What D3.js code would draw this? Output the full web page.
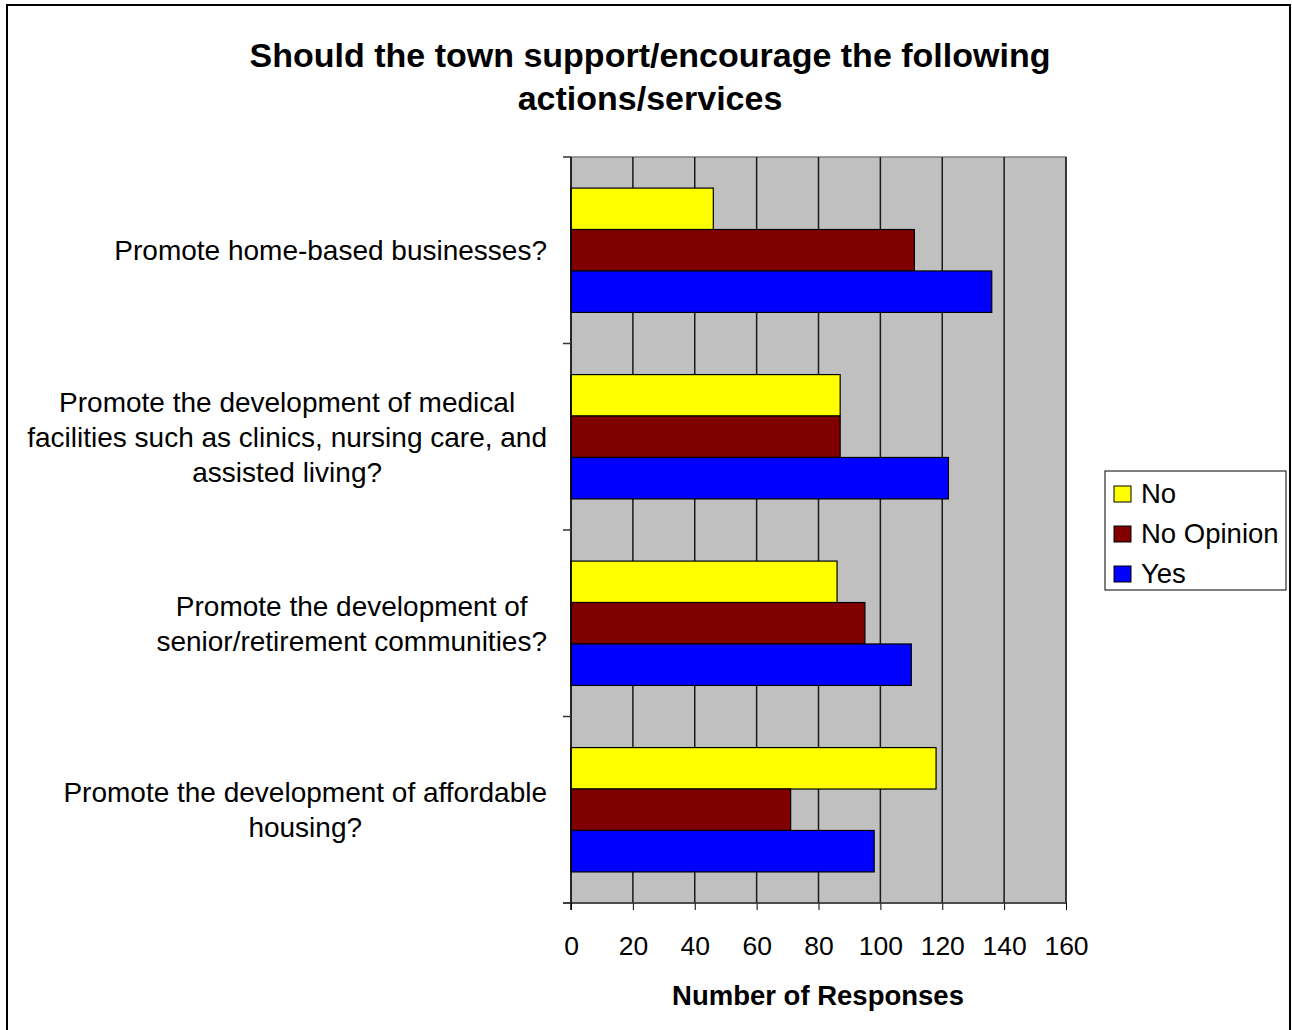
<!DOCTYPE html>
<html><head><meta charset="utf-8">
<script src="https://cdn.jsdelivr.net/npm/d3@7"></script>
<style>body{margin:0;background:#fff}svg{display:block}text{font-family:Arial,"Liberation Sans",sans-serif}</style>
</head><body>
<script>
const categories = [
  ["Promote home-based businesses?"],
  ["Promote the development of medical","facilities such as clinics, nursing care, and","assisted living?"],
  ["Promote the development of","senior/retirement communities?"],
  ["Promote the development of affordable","housing?"]
];
const seriesNames = ["No","No Opinion","Yes"];
const seriesColors = ["#FFFF00","#800000","#0000FF"];
const noValues = [46, 87, 86, 118];
const noOpinionValues = [111, 87, 95, 71];
const yesValues = [136, 122, 110, 98];
const xTicks = [0,20,40,60,80,100,120,140,160];
const titleLines = ["Should the town support/encourage the following","actions/services"];
const xTitle = "Number of Responses";

const W=1292,H=1030;
const svg=d3.select("body").append("svg").attr("width",W).attr("height",H);
svg.append("rect").attr("x",7).attr("y",5).attr("width",1283).attr("height",1040).attr("fill","#fff").attr("stroke","#000").attr("stroke-width",2);

const L=571,R=1066,T=157,B=903;
const x=d3.scaleLinear().domain([0,160]).range([L,R]);
const idx=d3.range(categories.length);
const y=d3.scaleBand().domain(idx).range([T,B]).padding(0);
const sub=d3.scaleBand().domain(d3.range(3)).range([0,y.bandwidth()]).paddingInner(0).paddingOuter(0.75);
const values=[noValues,noOpinionValues,yesValues];

svg.append("rect").attr("x",L).attr("y",T).attr("width",R-L).attr("height",B-T).attr("fill","#C0C0C0").attr("stroke","#808080").attr("stroke-width",1.5);
svg.append("g").selectAll("line").data(xTicks.slice(1)).join("line")
  .attr("x1",d=>x(d)).attr("x2",d=>x(d)).attr("y1",T).attr("y2",B)
  .attr("stroke","#1a1a1a").attr("stroke-width",1.5);

values.forEach((vals,s)=>{
  svg.append("g").selectAll("rect").data(idx).join("rect")
    .attr("x",x(0)).attr("y",i=>y(i)+sub(s)).attr("width",i=>x(vals[i])-x(0)).attr("height",sub.bandwidth())
    .attr("fill",seriesColors[s]).attr("stroke","#000").attr("stroke-width",1.2);
});

// axes
const xa=svg.append("g").attr("transform",`translate(0,${B})`).call(d3.axisBottom(x).tickValues(xTicks).tickSize(7).tickSizeOuter(0).tickPadding(26));
xa.select(".domain").remove();
xa.selectAll("line").attr("stroke","#000");
xa.selectAll("text").attr("font-size",26.5).attr("fill","#000").attr("font-family","Arial, 'Liberation Sans', sans-serif");
svg.append("line").attr("x1",L-8).attr("x2",R).attr("y1",B).attr("y2",B).attr("stroke","#333").attr("stroke-width",1.5);
svg.append("line").attr("x1",L).attr("x2",L).attr("y1",T).attr("y2",B+7).attr("stroke","#000").attr("stroke-width",1.5);
svg.append("g").selectAll("line").data(d3.range(categories.length+1)).join("line")
  .attr("x1",L-8).attr("x2",L).attr("y1",i=>T+i*y.step()).attr("y2",i=>T+i*y.step()).attr("stroke","#333").attr("stroke-width",1.5);

// category labels
const lh=35;
categories.forEach((lines,i)=>{
  const g=svg.append("g");
  const cy=y(i)+y.bandwidth()/2;
  const t=g.selectAll("text").data(lines).join("text")
    .attr("font-size",28).attr("text-anchor","middle").attr("fill","#000")
    .attr("y",(d,k)=>cy+(k-(lines.length-1)/2)*lh+10).text(d=>d);
  let mw=0; t.each(function(){mw=Math.max(mw,this.getComputedTextLength());});
  t.attr("x",547-mw/2);
});

// title
svg.append("g").selectAll("text").data(titleLines).join("text")
  .attr("x",650).attr("y",(d,k)=>67+k*43).attr("text-anchor","middle")
  .attr("font-size",34).attr("font-weight","bold").text(d=>d);
svg.append("text").attr("x",818).attr("y",1005).attr("text-anchor","middle").attr("font-size",27.5).attr("font-weight","bold").text(xTitle);

// legend
svg.append("rect").attr("x",1105).attr("y",471).attr("width",181).attr("height",119).attr("fill","#fff").attr("stroke","#000").attr("stroke-width",1);
seriesNames.forEach((n,s)=>{
  svg.append("rect").attr("x",1114).attr("y",486+s*40).attr("width",17).attr("height",16).attr("fill",seriesColors[s]).attr("stroke","#000").attr("stroke-width",1);
  svg.append("text").attr("x",1141).attr("y",503+s*40).attr("font-size",27.5).text(n);
});
</script>
</body></html>
